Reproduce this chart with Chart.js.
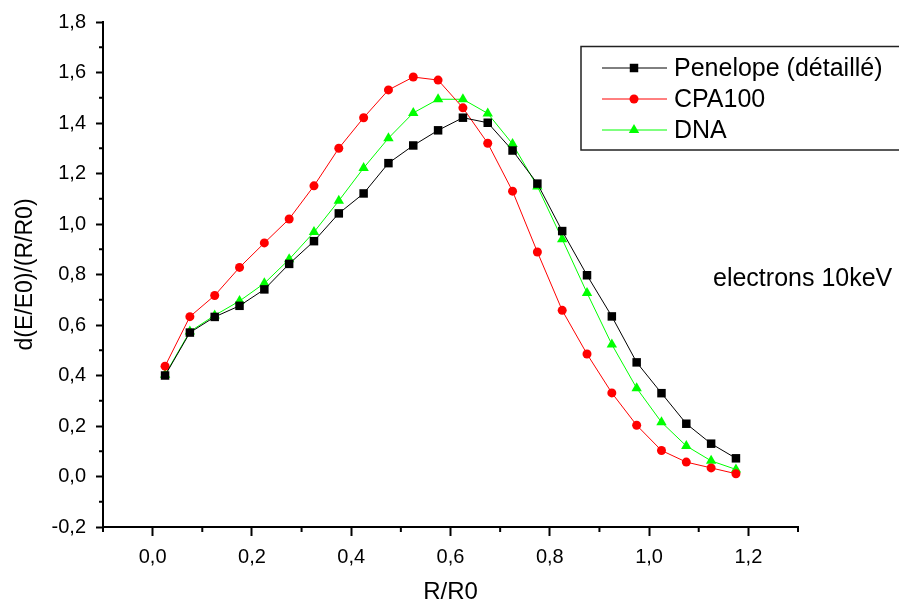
<!DOCTYPE html>
<html>
<head>
<meta charset="utf-8">
<script src="https://cdn.jsdelivr.net/npm/chart.js@4.4.0/dist/chart.umd.min.js"></script>
<style>
  html, body { margin: 0; padding: 0; background: #fff; overflow: hidden; }
  #wrap { width: 899px; height: 604px; }
</style>
</head>
<body>
<div id="wrap"><canvas id="energyChart" width="899" height="604"></canvas></div>
<script>
const FONT = "'Liberation Sans', Arial, sans-serif";

// R/R0 positions (bin centres)
const radius = [0.025, 0.075, 0.125, 0.175, 0.225, 0.275, 0.325, 0.375, 0.425, 0.475, 0.525, 0.575,
                0.625, 0.675, 0.725, 0.775, 0.825, 0.875, 0.925, 0.975, 1.025, 1.075, 1.125, 1.175];

const penelope = [0.400, 0.570, 0.632, 0.676, 0.741, 0.842, 0.932, 1.042, 1.121, 1.241, 1.311, 1.371,
                  1.421, 1.401, 1.291, 1.160, 0.972, 0.797, 0.634, 0.452, 0.330, 0.209, 0.130, 0.072];
const cpa100 = [0.437, 0.633, 0.717, 0.828, 0.925, 1.020, 1.151, 1.300, 1.421, 1.531, 1.582, 1.570,
                1.460, 1.320, 1.130, 0.889, 0.658, 0.485, 0.331, 0.203, 0.103, 0.057, 0.034, 0.011];
const dna = [0.403, 0.574, 0.638, 0.695, 0.765, 0.860, 0.968, 1.092, 1.222, 1.340, 1.440, 1.494,
             1.494, 1.438, 1.317, 1.149, 0.940, 0.727, 0.523, 0.350, 0.215, 0.121, 0.062, 0.028];

const seriesNames = ["Penelope (détaillé)", "CPA100", "DNA"];
const xTickLabels = ["0,0", "0,2", "0,4", "0,6", "0,8", "1,0", "1,2"];
const yTickLabels = ["-0,2", "0,0", "0,2", "0,4", "0,6", "0,8", "1,0", "1,2", "1,4", "1,6", "1,8"];
const annotationText = "electrons 10keV";

function toPoints(values) {
  return values.map((v, i) => ({ x: radius[i], y: v }));
}

// label only every other 0.1 step, minor ones stay blank
function isMajor(value) {
  return Math.round(value * 10) % 2 === 0;
}
function xLabel(value) {
  if (!isMajor(value)) return "";
  const idx = Math.round(value * 5);
  return xTickLabels[idx] !== undefined ? xTickLabels[idx] : "";
}
function yLabel(value) {
  if (!isMajor(value)) return "";
  const idx = Math.round((value + 0.2) * 5);
  return yTickLabels[idx] !== undefined ? yTickLabels[idx] : "";
}

// short minor ticks, Chart.js only does one tick length
const minorTicks = {
  id: "minorTicks",
  afterDraw(chart) {
    const ctx = chart.ctx;
    const xs = chart.scales.x, ys = chart.scales.y;
    ctx.save();
    ctx.strokeStyle = "#000";
    ctx.lineWidth = 2;
    xs.ticks.forEach((t) => {
      if (isMajor(t.value)) return;
      const px = xs.getPixelForValue(t.value);
      ctx.beginPath();
      ctx.moveTo(px, xs.top);
      ctx.lineTo(px, xs.top + 5);
      ctx.stroke();
    });
    ys.ticks.forEach((t) => {
      if (isMajor(t.value)) return;
      const py = ys.getPixelForValue(t.value);
      ctx.beginPath();
      ctx.moveTo(ys.right, py);
      ctx.lineTo(ys.right - 4, py);
      ctx.stroke();
    });
    ctx.restore();
  },
};

// boxed legend + side note, as in the Origin plot
const boxLegend = {
  id: "boxLegend",
  afterDraw(chart) {
    const ctx = chart.ctx;
    ctx.save();
    ctx.strokeStyle = "#222";
    ctx.lineWidth = 1.5;
    ctx.strokeRect(581, 46.5, 500, 103.5);

    ctx.font = "25px " + FONT;
    ctx.textBaseline = "middle";
    ctx.textAlign = "left";
    chart.data.datasets.forEach((ds, i) => {
      const y = 68 + i * 31;
      ctx.strokeStyle = ds.borderColor;
      ctx.lineWidth = 1;
      ctx.beginPath();
      ctx.moveTo(602, y);
      ctx.lineTo(667, y);
      ctx.stroke();
      ctx.fillStyle = ds.pointBackgroundColor;
      Chart.helpers.drawPoint(ctx, {
        pointStyle: ds.pointStyle,
        radius: ds.pointRadius,
        rotation: 0,
        borderWidth: 0,
      }, 634, y);
      ctx.fillStyle = "#000";
      ctx.fillText(ds.label, 674, y + 1);
    });

    ctx.fillStyle = "#000";
    ctx.fillText(annotationText, 713, 279);
    ctx.restore();
  },
};

const data = {
  datasets: [
    {
      label: seriesNames[0],
      data: toPoints(penelope),
      borderColor: "#000000",
      backgroundColor: "#000000",
      pointBackgroundColor: "#000000",
      pointBorderColor: "#000000",
      pointStyle: "rect",
      pointRadius: 6,
    },
    {
      label: seriesNames[1],
      data: toPoints(cpa100),
      borderColor: "#ff0000",
      backgroundColor: "#ff0000",
      pointBackgroundColor: "#ff0000",
      pointBorderColor: "#ff0000",
      pointStyle: "circle",
      pointRadius: 4.5,
    },
    {
      label: seriesNames[2],
      data: toPoints(dna),
      borderColor: "#00ff00",
      backgroundColor: "#00ff00",
      pointBackgroundColor: "#00ff00",
      pointBorderColor: "#00ff00",
      pointStyle: "triangle",
      pointRadius: 6,
    },
  ],
};

const config = {
  type: "line",
  data: data,
  options: {
    responsive: false,
    animation: false,
    layout: { padding: { top: 18, right: 101, left: 0, bottom: 0 } },
    elements: {
      line: { borderWidth: 1, tension: 0 },
      point: { borderWidth: 0, hoverRadius: 6 },
    },
    scales: {
      x: {
        type: "linear",
        min: -0.1,
        max: 1.3,
        afterFit: (scale) => { scale.height = 77; },
        border: { display: true, color: "#000", width: 2 },
        grid: {
          drawOnChartArea: false,
          tickLength: 9,
          tickWidth: 2,
          tickColor: (c) => (isMajor(c.tick.value) ? "#000" : "rgba(0,0,0,0)"),
        },
        ticks: {
          stepSize: 0.1,
          autoSkip: false,
          maxRotation: 0,
          padding: 9,
          color: "#000",
          font: { family: FONT, size: 20 },
          callback: (v) => xLabel(v),
        },
        title: {
          display: true,
          text: "R/R0",
          color: "#000",
          font: { family: FONT, size: 24, lineHeight: 1 },
          padding: { top: 0, bottom: 0 },
        },
      },
      y: {
        min: -0.2,
        max: 1.8,
        afterFit: (scale) => { scale.width = 103; },
        border: { display: true, color: "#000", width: 2 },
        grid: {
          drawOnChartArea: false,
          tickLength: 7,
          tickWidth: 2,
          tickColor: (c) => (isMajor(c.tick.value) ? "#000" : "rgba(0,0,0,0)"),
        },
        ticks: {
          stepSize: 0.1,
          autoSkip: false,
          padding: 10,
          color: "#000",
          font: { family: FONT, size: 20 },
          callback: (v) => yLabel(v),
        },
        title: {
          display: true,
          text: "d(E/E0)/(R/R0)",
          color: "#000",
          font: { family: FONT, size: 23 },
          padding: { top: 12, bottom: 0 },
        },
      },
    },
    plugins: {
      legend: { display: false },
      tooltip: { enabled: false },
    },
  },
  plugins: [minorTicks, boxLegend],
};

const energyChart = new Chart(document.getElementById("energyChart"), config);
</script>
</body>
</html>
